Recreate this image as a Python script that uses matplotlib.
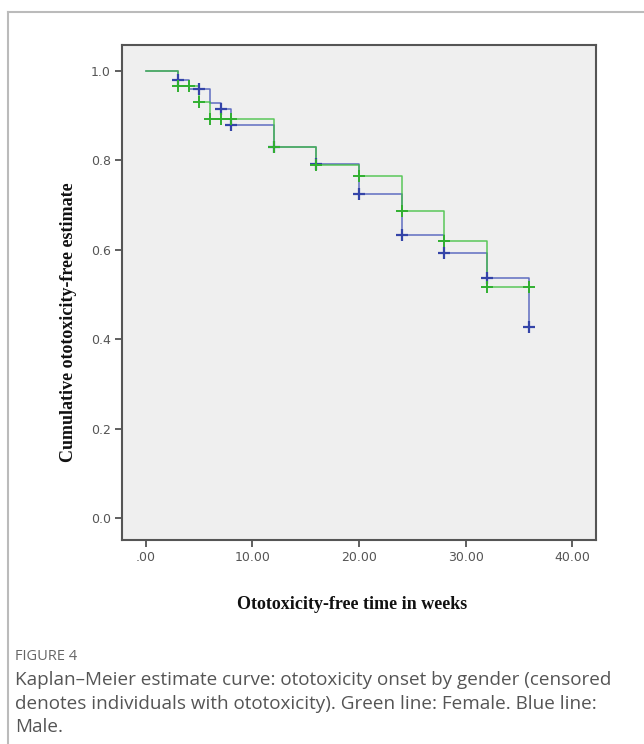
import numpy as np
import matplotlib
matplotlib.use("Agg")
import matplotlib.pyplot as plt
from matplotlib.lines import Line2D

# ---- data ----
male_times = [0, 3, 4, 6, 7, 8, 12, 16, 20, 24, 28, 32, 36]
male_surv = [1.0, 0.979, 0.958, 0.927, 0.914, 0.878, 0.830, 0.791, 0.723, 0.632, 0.593, 0.536, 0.428]
male_censor = [3, 5, 7, 8, 12, 16, 20, 24, 28, 32, 36]

female_times = [0, 3, 5, 6, 12, 16, 20, 24, 28, 32, 36]
female_surv = [1.0, 0.966, 0.929, 0.892, 0.830, 0.788, 0.765, 0.687, 0.620, 0.516, 0.516]
female_censor = [3, 4, 5, 6, 7, 8, 12, 16, 20, 24, 28, 32, 36]

x_ticks = [0, 10, 20, 30, 40]
x_ticklabels = [".00", "10.00", "20.00", "30.00", "40.00"]
y_ticks = [0.0, 0.2, 0.4, 0.6, 0.8, 1.0]
y_ticklabels = ["0.0", "0.2", "0.4", "0.6", "0.8", "1.0"]

xlabel = "Ototoxicity-free time in weeks"
ylabel = "Cumulative ototoxicity-free estimate"
fig_label = "FIGURE 4"
caption = ("Kaplan\u2013Meier estimate curve: ototoxicity onset by gender (censored\n"
           "denotes individuals with ototoxicity). Green line: Female. Blue line:\n"
           "Male.")

blue = "#4656b8"
green = "#40c040"

W, H = 644, 744
fig = plt.figure(figsize=(W / 100, H / 100), dpi=100)
fig.patch.set_facecolor("white")

# outer frame lines (top and left)
fig.add_artist(Line2D([8 / W, 1.0], [1 - 11.5 / H, 1 - 11.5 / H], color="#bbbbbb", lw=1.5,
                      transform=fig.transFigure))
fig.add_artist(Line2D([8 / W, 8 / W], [0, 1 - 11.5 / H], color="#bbbbbb", lw=1.5,
                      transform=fig.transFigure))

ax = fig.add_axes([122 / W, (H - 540) / H, 474 / W, 495 / H])
ax.set_facecolor("#efefef")


def censor_y(times, surv, ct):
    idx = np.searchsorted(np.array(times), np.array(ct), side="right") - 1
    return np.array(surv)[idx]


ax.step(male_times, male_surv, where="post", color=blue, lw=1.1, alpha=0.85, zorder=3)
ax.step(female_times, female_surv, where="post", color=green, lw=1.1, alpha=0.85, zorder=4)
ax.plot(male_censor, censor_y(male_times, male_surv, male_censor), ls="none", marker="+",
        ms=8, mew=1.6, color="#3444a8", zorder=5)
ax.plot(female_censor, censor_y(female_times, female_surv, female_censor), ls="none", marker="+",
        ms=8, mew=1.4, color="#30b030", zorder=6)

ax.set_xlim(-2.25, 42.25)
ax.set_ylim(-0.049, 1.057)
ax.set_xticks(x_ticks)
ax.set_xticklabels(x_ticklabels)
ax.set_yticks(y_ticks)
ax.set_yticklabels(y_ticklabels)
ax.tick_params(axis="both", direction="out", length=5, width=1.2, color="#444444",
               labelcolor="#555555", labelsize=9, pad=3)
for sp in ax.spines.values():
    sp.set_color("#555555")
    sp.set_linewidth(1.5)

ax.set_xlabel(xlabel, fontfamily="Liberation Serif", fontweight="bold", fontsize=13,
              color="#111111")
ax.set_ylabel(ylabel, fontfamily="Liberation Serif", fontweight="bold", fontsize=13,
              color="#111111")
ax.yaxis.set_label_coords(-0.095, 0.44)
ax.xaxis.set_label_coords(0.485, -0.113)

fig.text(15 / W, 1 - 656 / H, fig_label, fontfamily="Open Sans", fontsize=10.5, color="#666666",
         va="center", ha="left")
fig.text(15 / W, 1 - 671 / H, caption, fontfamily="Open Sans", fontsize=13.6, color="#555555",
         va="top", ha="left", linespacing=1.41)

fig.savefig("out.png", dpi=100, facecolor="white")
